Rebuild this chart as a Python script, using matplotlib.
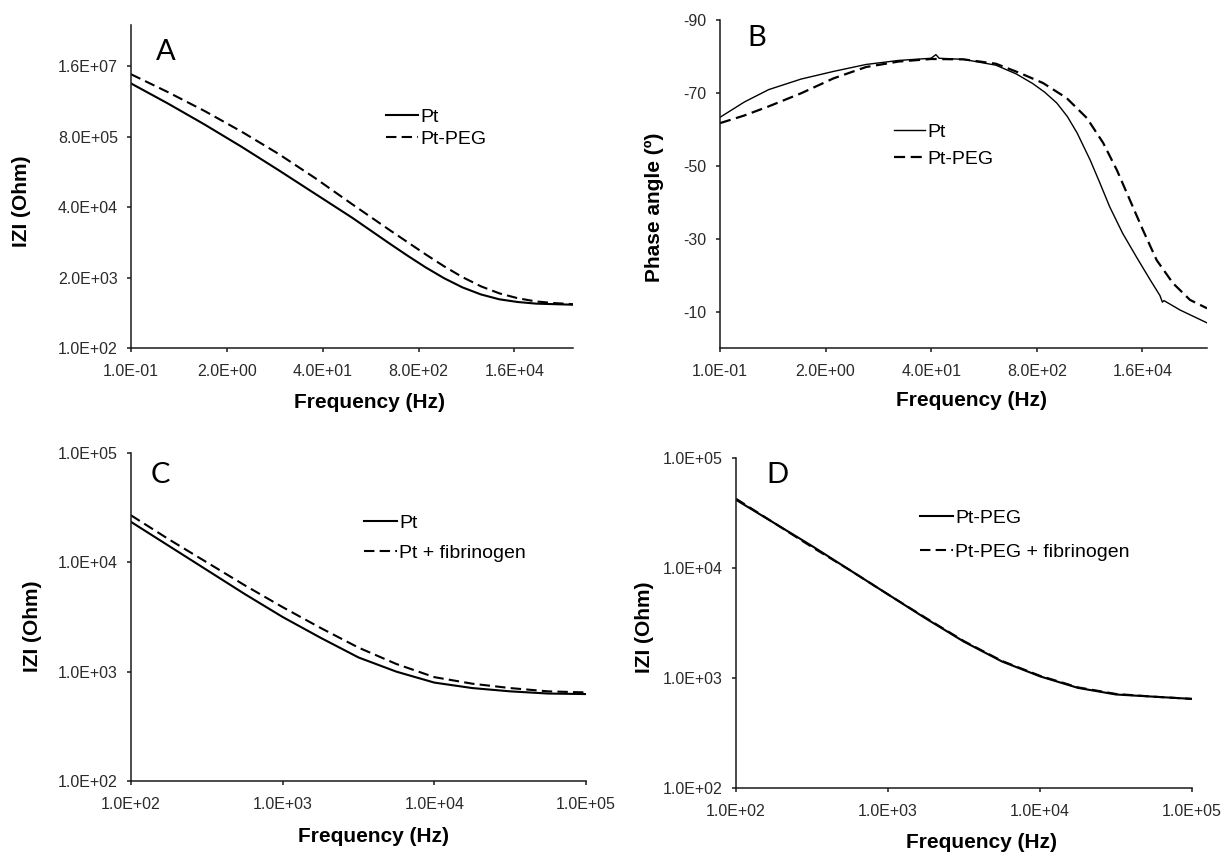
import numpy as np
import matplotlib
matplotlib.use('Agg')
import matplotlib.pyplot as plt
from matplotlib.ticker import FixedLocator, FixedFormatter, NullLocator

plt.rcParams['font.family'] = 'Liberation Sans'
plt.rcParams['axes.unicode_minus'] = False

# ---- data (log10 values for the log axes) ----
# panel A: |Z| vs frequency, 0.1 Hz - 100 kHz
a_logf = [-1.0, -0.5, 0.0, 0.5, 1.0, 1.5, 2.0, 2.5, 2.75, 3.0, 3.25, 3.5, 3.75, 4.0, 4.25, 4.5, 4.75, 5.0]
a_pt = [6.89, 6.52, 6.13, 5.72, 5.29, 4.85, 4.41, 3.94, 3.71, 3.49, 3.29, 3.12, 2.99, 2.90, 2.85, 2.82, 2.81, 2.80]
a_peg = [7.06, 6.73, 6.38, 6.00, 5.59, 5.14, 4.66, 4.19, 3.96, 3.73, 3.51, 3.31, 3.14, 3.01, 2.92, 2.86, 2.83, 2.81]

# panel B: phase angle (deg)
b_pt_logf = [-1.0, -0.7, -0.4, 0.0, 0.4, 0.8, 1.2, 1.6, 1.66, 1.70, 2.0, 2.4, 2.65, 2.85, 3.0, 3.15,
             3.28, 3.4, 3.56, 3.68, 3.8, 3.96, 4.13, 4.3, 4.42, 4.45, 4.47, 4.67, 5.0]
b_pt = [-63.3, -67.5, -70.9, -73.8, -75.9, -77.8, -78.9, -79.5, -80.5, -79.5, -79.2, -77.6, -75.2,
        -72.6, -70.2, -67.2, -63.5, -59.0, -51.6, -45.3, -38.8, -31.5, -25.0, -18.7, -14.4, -12.6,
        -13.0, -10.4, -6.9]
b_peg_logf = [-1.0, -0.7, -0.4, 0.0, 0.4, 0.8, 1.2, 1.6, 2.0, 2.4, 2.7, 2.98, 3.27, 3.52, 3.72,
              3.89, 4.05, 4.21, 4.38, 4.58, 4.79, 5.0]
b_peg = [-61.7, -63.8, -66.3, -69.9, -74.0, -77.1, -78.6, -79.3, -79.2, -78.0, -75.4, -72.7, -68.6,
         -63.1, -56.3, -48.8, -40.6, -32.4, -24.1, -17.8, -13.2, -10.9]

# panels C and D: 100 Hz - 100 kHz
cd_logf = [2.0, 2.25, 2.5, 2.75, 3.0, 3.25, 3.5, 3.75, 4.0, 4.25, 4.5, 4.75, 5.0]
c_pt = [4.37, 4.15, 3.93, 3.71, 3.50, 3.31, 3.13, 3.00, 2.90, 2.85, 2.82, 2.80, 2.795]
c_fib = [4.43, 4.21, 4.00, 3.79, 3.59, 3.40, 3.22, 3.07, 2.95, 2.89, 2.85, 2.82, 2.81]
d_peg = [4.62, 4.41, 4.20, 3.98, 3.76, 3.54, 3.33, 3.15, 3.015, 2.91, 2.85, 2.83, 2.81]
d_fib = [4.63, 4.41, 4.19, 3.98, 3.76, 3.545, 3.335, 3.155, 3.02, 2.915, 2.855, 2.83, 2.81]

ab_xticks = [0.1, 2, 40, 800, 16000]
ab_xlabels = ['1.0E-01', '2.0E+00', '4.0E+01', '8.0E+02', '1.6E+04']
a_yticks = [1e2, 2e3, 4e4, 8e5, 1.6e7]
a_ylabels = ['1.0E+02', '2.0E+03', '4.0E+04', '8.0E+05', '1.6E+07']
b_yticks = [-90, -70, -50, -30, -10]
cd_ticks = [1e2, 1e3, 1e4, 1e5]
cd_labels = ['1.0E+02', '1.0E+03', '1.0E+04', '1.0E+05']

W, H = 1226, 857
fig = plt.figure(figsize=(W / 100, H / 100), dpi=100)


def px_axes(l, t, r, b):
    return fig.add_axes([l / W, 1 - b / H, (r - l) / W, (b - t) / H])


def style(ax):
    for s in ['top', 'right']:
        ax.spines[s].set_visible(False)
    for s in ['left', 'bottom']:
        ax.spines[s].set_linewidth(1.1)
        ax.spines[s].set_color('#1a1a1a')
    ax.tick_params(direction='out', length=3, width=1.1, color='#1a1a1a',
                   labelsize=11.5, labelcolor='#2a2a2a')
    ax.tick_params(axis='x', pad=8.5)
    ax.tick_params(axis='y', pad=6.5)
    ax.xaxis.set_minor_locator(NullLocator())
    ax.yaxis.set_minor_locator(NullLocator())


def set_ticks(axis, ticks, labels):
    axis.set_major_locator(FixedLocator(ticks))
    axis.set_major_formatter(FixedFormatter(labels))


def labels(xl, yl, xpos, ypos):
    fig.text(xpos[0] / W, 1 - xpos[1] / H, xl, ha='center', va='center',
             fontsize=15, fontweight='bold')
    fig.text(ypos[0] / W, 1 - ypos[1] / H, yl, ha='center', va='center',
             fontsize=15, fontweight='bold', rotation=90)


def letter(s, x, y):
    fig.text(x / W, 1 - y / H, s, ha='center', va='center', fontsize=21, family='Lato')


def legend(ax, x, y, spacing, hl):
    ax.legend(loc='upper left', bbox_to_anchor=(x / W, 1 - y / H), bbox_transform=fig.transFigure,
              frameon=False, fontsize=14, borderpad=0, borderaxespad=0,
              handlelength=hl, handletextpad=0.1, labelspacing=spacing)


dash = (5, 2.5)

# ---- A ----
ax = px_axes(131, 25, 573, 348)
ax.plot(10 ** np.array(a_logf), 10 ** np.array(a_pt), color='k', lw=1.5, label='Pt')
ax.plot(10 ** np.array(a_logf), 10 ** np.array(a_peg), color='k', lw=1.5, dashes=dash, label='Pt-PEG')
ax.set_xscale('log')
ax.set_yscale('log')
ax.set_xlim(0.1, 1e5)
ax.set_ylim(1e2, 10 ** 7.97)
style(ax)
set_ticks(ax.xaxis, ab_xticks, ab_xlabels)
set_ticks(ax.yaxis, a_yticks, a_ylabels)
legend(ax, 386, 108, 0.26, 1.65)
labels('Frequency (Hz)', 'IZI (Ohm)', (369, 403), (22, 201))
letter('A', 166, 52)

# ---- B ----
ax = px_axes(720, 20, 1207, 348)
ax.plot(10 ** np.array(b_pt_logf), b_pt, color='k', lw=1.0, label='Pt')
ax.plot(10 ** np.array(b_peg_logf), b_peg, color='k', lw=1.6, dashes=dash, label='Pt-PEG')
ax.set_xscale('log')
ax.set_xlim(0.1, 1e5)
ax.set_ylim(0, -90)
style(ax)
set_ticks(ax.xaxis, ab_xticks, ab_xlabels)
ax.set_yticks(b_yticks)
legend(ax, 894, 123, 0.51, 1.6)
labels('Frequency (Hz)', 'Phase angle (º)', (972, 401), (654, 207))
letter('B', 757, 38)

# ---- C ----
ax = px_axes(131, 453, 586, 781)
ax.plot(10 ** np.array(cd_logf), 10 ** np.array(c_pt), color='k', lw=1.5, label='Pt')
ax.plot(10 ** np.array(cd_logf), 10 ** np.array(c_fib), color='k', lw=1.5, dashes=dash,
        label='Pt + fibrinogen')
ax.set_xscale('log')
ax.set_yscale('log')
ax.set_xlim(1e2, 1e5)
ax.set_ylim(1e2, 1e5)
style(ax)
set_ticks(ax.xaxis, cd_ticks, cd_labels)
set_ticks(ax.yaxis, cd_ticks, cd_labels)
legend(ax, 364, 514, 0.66, 1.7)
labels('Frequency (Hz)', 'IZI (Ohm)', (373, 836), (33, 626))
letter('C', 160, 475)

# ---- D ----
ax = px_axes(736, 458, 1192, 788)
ax.plot(10 ** np.array(cd_logf), 10 ** np.array(d_peg), color='k', lw=1.5, label='Pt-PEG')
ax.plot(10 ** np.array(cd_logf), 10 ** np.array(d_fib), color='k', lw=1.5, dashes=dash,
        label='Pt-PEG + fibrinogen')
ax.set_xscale('log')
ax.set_yscale('log')
ax.set_xlim(1e2, 1e5)
ax.set_ylim(1e2, 1e5)
style(ax)
set_ticks(ax.xaxis, cd_ticks, cd_labels)
set_ticks(ax.yaxis, cd_ticks, cd_labels)
legend(ax, 920, 509, 0.86, 1.7)
labels('Frequency (Hz)', 'IZI (Ohm)', (982, 842), (644, 627))
letter('D', 777, 475)

fig.savefig('out.png', dpi=100)
